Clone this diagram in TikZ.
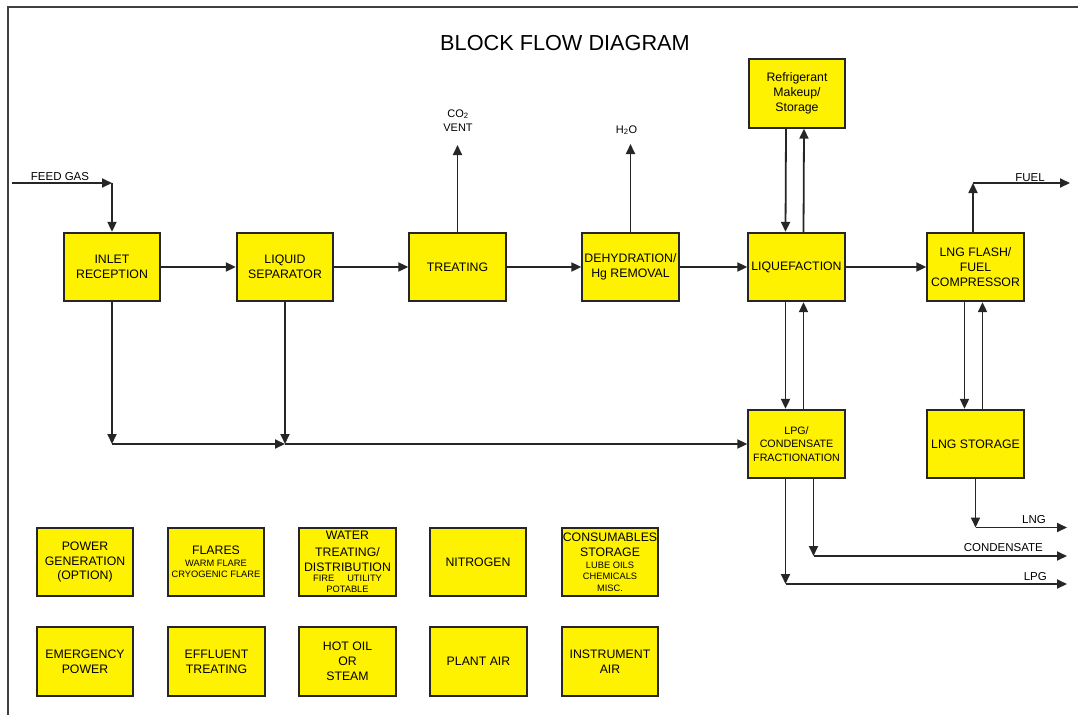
\documentclass[tikz,border=0pt]{standalone}
\usepackage{fontspec}
\setmainfont{Liberation Sans}
\usetikzlibrary{arrows.meta,calc}
\tikzset{
  flow/.style={-{Triangle[length=10pt,width=9pt]}, line width=1.8pt, black!85},
  unit/.style={draw=black!85, fill=yellow, line width=1.8pt,
    minimum width=96.5pt, minimum height=68.5pt, inner sep=0pt,
    align=center, font=\fontsize{12.3}{15}\selectfont},
  tag/.style={font=\fontsize{11.5}{13}\selectfont, inner sep=0pt, anchor=base},
  subtag/.style={tag, font=\fontsize{11}{13}\selectfont}
}
\newcommand{\smalltxt}{\fontsize{9.3}{11.5}\selectfont}

\begin{document}
\begin{tikzpicture}[x=1pt,y=-1pt]
  \useasboundingbox (0,0) rectangle (1078,715);
  \draw[line width=1.6pt, black!75] (8,715) -- (8,7) -- (1078,7);
  \node[font=\fontsize{21.7}{26}\selectfont, anchor=base] (title) at (565,50) {BLOCK FLOW DIAGRAM};

  % process train
  \node[unit] (inlet) at (112,267) {INLET\\RECEPTION};
  \node[unit] (sep) at (285,267) {LIQUID\\SEPARATOR};
  \node[unit] (treat) at (457.5,267) {TREATING};
  \node[unit] (dehy) at (630.5,267) {DEHYDRATION/\\Hg REMOVAL};
  \node[unit] (liq) at (796.5,267) {LIQUEFACTION};
  \node[unit] (flash) at (975.5,267) {LNG FLASH/\\FUEL\\COMPRESSOR};
  \node[unit] (refrig) at (797,93.5) {Refrigerant\\Makeup/\\Storage};
  \node[unit, font=\fontsize{10.7}{13.5}\selectfont] (frac) at (796.5,444) {LPG/\\CONDENSATE\\FRACTIONATION};
  \node[unit] (lngst) at (975.5,444) {LNG STORAGE};

  % utilities
  \node[unit] (power) at (85,562) {POWER\\[-0.5pt]GENERATION\\[-0.5pt](OPTION)};
  \node[unit] (flare) at (216,562) {FLARES\\[-3pt]{\smalltxt WARM FLARE}\\[-4.3pt]{\smalltxt CRYOGENIC FLARE}};
  \node[unit] (wtr) at (347.5,562) {WATER\\[1.5pt]TREATING/\\DISTRIBUTION\\[-5pt]{\smalltxt FIRE\hspace{13pt}UTILITY}\\[-3.4pt]{\smalltxt POTABLE}};
  \node[unit] (nitro) at (478,562) {NITROGEN};
  \node[unit] (consum) at (610,562) {CONSUMABLES\\[-0.3pt]STORAGE\\[-2.7pt]{\smalltxt LUBE OILS}\\[-4pt]{\smalltxt CHEMICALS}\\[-3.3pt]{\smalltxt MISC.}};
  \node[unit] (emerg) at (85,661.5) {EMERGENCY\\POWER};
  \node[unit] (efflu) at (216.5,661.5) {EFFLUENT\\TREATING};
  \node[unit] (hotoil) at (347.5,661.5) {HOT OIL\\OR\\STEAM};
  \node[unit] (pair) at (478.5,661.5) {PLANT AIR};
  \node[unit] (iair) at (610,661.5) {INSTRUMENT\\AIR};

  % stream ends
  \coordinate (feed) at (12,183);
  \coordinate (feedin) at (inlet.north |- feed);
  \coordinate (vent) at (457.5,145);
  \coordinate (h2o) at (630.5,144);
  \coordinate (fuelup) at (973,183);
  \coordinate (fuel) at (1070,183);
  \coordinate (j1) at (inlet.south |- frac.west);
  \coordinate (j2) at (sep.south |- frac.west);
  \coordinate (lngturn) at (975.5,527.5);
  \coordinate (lngend) at (1067,527.5);
  \coordinate (condturn) at (813.5,556);
  \coordinate (condend) at (1067,556);
  \coordinate (lpgturn) at (785.5,584);
  \coordinate (lpgend) at (1067,584);

  \draw[flow] (feed) -- (feedin);
  \draw[flow] (feedin) -- (inlet.north);
  \draw[flow] (inlet) -- (sep);
  \draw[flow] (sep) -- (treat);
  \draw[flow] (treat) -- (dehy);
  \draw[flow] (dehy) -- (liq);
  \draw[flow] (liq) -- (flash);
  \draw[flow] (treat.north) -- (vent);
  \draw[flow] (dehy.north) -- (h2o);
  \draw[flow] ([xshift=-11pt]refrig.south) -- ([xshift=-11pt]liq.north);
  \draw[flow] ([xshift=7pt]liq.north) -- ([xshift=7pt]refrig.south);
  \draw[flow] ([xshift=-11pt]liq.south) -- ([xshift=-11pt]frac.north);
  \draw[flow] ([xshift=7pt]frac.north) -- ([xshift=7pt]liq.south);
  \draw[flow] ([xshift=-11pt]flash.south) -- ([xshift=-11pt]lngst.north);
  \draw[flow] ([xshift=7pt]lngst.north) -- ([xshift=7pt]flash.south);
  \draw[flow] (flash.north -| fuelup) -- (fuelup);
  \draw[flow] (fuelup) -- (fuel);
  \draw[flow] (inlet.south) -- (j1);
  \draw[flow] (j1) -- (j2);
  \draw[flow] (sep.south) -- (j2);
  \draw[flow] (j2) -- (frac.west);
  \draw[flow] (lngst.south) -- (lngturn);
  \draw[flow] (lngturn) -- (lngend);
  \draw[flow] (frac.south -| condturn) -- (condturn);
  \draw[flow] (condturn) -- (condend);
  \draw[flow] (frac.south -| lpgturn) -- (lpgturn);
  \draw[flow] (lpgturn) -- (lpgend);

  \node[tag] (feedlbl) at (60,180.5) {FEED GAS};
  \node[subtag] (co2lbl) at (458,117) {CO\textsubscript{2}};
  \node[subtag] (ventlbl) at (458,131.7) {VENT};
  \node[subtag] (h2olbl) at (626.5,133) {H\textsubscript{2}O};
  \node[tag] (fuellbl) at (1030,181) {FUEL};
  \node[tag, anchor=base east] (lnglbl) at (1046,523) {LNG};
  \node[tag, anchor=base east] (condlbl) at (1043,551.5) {CONDENSATE};
  \node[tag, anchor=base east] (lpglbl) at (1047,580) {LPG};
\end{tikzpicture}
\end{document}
